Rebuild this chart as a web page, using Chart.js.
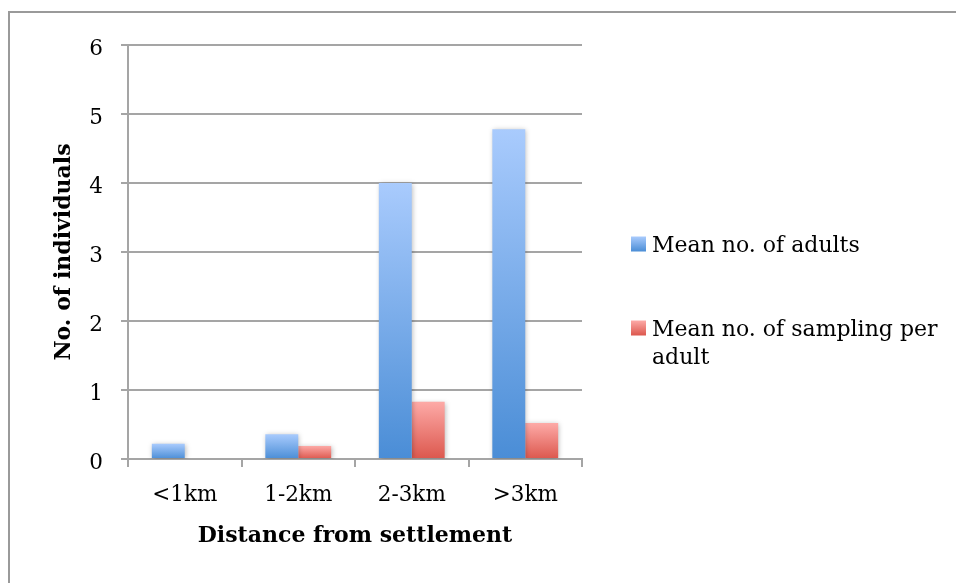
<!DOCTYPE html>
<html>
<head>
<meta charset="utf-8">
<script src="https://cdn.jsdelivr.net/npm/chart.js@4.4.1/dist/chart.umd.min.js"></script>
<style>
  html, body { margin: 0; padding: 0; background: #fff; }
  #wrap { width: 956px; height: 583px; position: relative; }
</style>
</head>
<body>
<div id="wrap"><canvas id="c" width="956" height="583"></canvas></div>
<script>
const categories = ['<1km', '1-2km', '2-3km', '>3km'];
const adults = [0.22, 0.36, 4.0, 4.78];
const samplingPerAdult = [0, 0.19, 0.83, 0.52];
const seriesLabels = ['Mean no. of adults', 'Mean no. of sampling per adult'];
const yTicks = [0, 1, 2, 3, 4, 5, 6];

const FONT = '"DejaVu Serif", serif';
const BLUE = ['#a9cbfd', '#4a8dd6'];
const RED = ['#fdaaa7', '#dc574d'];

function grad(colors) {
  return (ctx) => {
    const chart = ctx.chart;
    if (!chart.chartArea || ctx.type !== 'data') return colors[1];
    const ys = chart.scales.y;
    const yTop = ys.getPixelForValue(ctx.raw);
    const yBot = ys.getPixelForValue(0);
    if (!isFinite(yTop) || !isFinite(yBot) || Math.abs(yBot - yTop) < 0.5) return colors[1];
    const g = chart.ctx.createLinearGradient(0, yTop, 0, yBot);
    g.addColorStop(0, colors[0]);
    g.addColorStop(1, colors[1]);
    return g;
  };
}

const framePlugin = {
  id: 'frame',
  beforeDraw(chart) {
    const c = chart.ctx;
    c.save();
    c.fillStyle = '#fff';
    c.fillRect(0, 0, chart.width, chart.height);
    c.strokeStyle = '#9a9a9a';
    c.lineWidth = 2;
    c.strokeRect(9, 12, 3000, 3000);
    c.restore();
  }
};

const shadowPlugin = {
  id: 'barShadow',
  beforeDatasetsDraw(chart) {
    const c = chart.ctx;
    c.save();
    c.shadowColor = 'rgba(0,0,0,0.28)';
    c.shadowBlur = 5;
    c.shadowOffsetX = 1;
    c.shadowOffsetY = 1;
  },
  afterDatasetsDraw(chart) {
    chart.ctx.restore();
  }
};

const legendPlugin = {
  id: 'customLegend',
  afterDraw(chart) {
    const c = chart.ctx;
    const boxX = 631, boxSize = 15, textX = 652, lineH = 28;
    const starts = [244, 328];
    c.save();
    c.font = '22px ' + FONT;
    c.textBaseline = 'middle';
    c.textAlign = 'left';
    const maxW = chart.width - textX - 6;
    chart.data.datasets.forEach((ds, i) => {
      const cy = starts[i];
      const colors = ds._colors;
      const g = c.createLinearGradient(0, cy - boxSize / 2, 0, cy + boxSize / 2);
      g.addColorStop(0, colors[0]);
      g.addColorStop(1, colors[1]);
      c.fillStyle = g;
      c.fillRect(boxX, cy - boxSize / 2, boxSize, boxSize);
      const words = ds.label.split(' ');
      const lines = [];
      let cur = '';
      words.forEach(w => {
        const t = cur ? cur + ' ' + w : w;
        if (c.measureText(t).width > maxW && cur) { lines.push(cur); cur = w; }
        else cur = t;
      });
      if (cur) lines.push(cur);
      c.fillStyle = '#000';
      lines.forEach((ln, k) => c.fillText(ln, textX, cy + 2 + k * lineH));
    });
    c.restore();
  }
};

new Chart(document.getElementById('c'), {
  type: 'bar',
  data: {
    labels: categories,
    datasets: [
      { label: seriesLabels[0], data: adults, backgroundColor: grad(BLUE), _colors: BLUE },
      { label: seriesLabels[1], data: samplingPerAdult, backgroundColor: grad(RED), _colors: RED }
    ]
  },
  plugins: [framePlugin, shadowPlugin, legendPlugin],
  options: {
    responsive: false,
    animation: false,
    devicePixelRatio: 1,
    layout: { padding: { left: 40, top: 45, right: 374, bottom: 0 } },
    datasets: { bar: { categoryPercentage: 0.58, barPercentage: 1.0 } },
    plugins: { legend: { display: false }, tooltip: { enabled: false } },
    scales: {
      x: {
        afterFit(s) { s.height = 124; },
        grid: { display: true, drawOnChartArea: false, drawTicks: true, tickLength: 8, color: '#a5a5a5', lineWidth: 2, offset: true },
        border: { display: true, color: '#a5a5a5', width: 2 },
        ticks: { color: '#000', font: { family: FONT, size: 21.5 }, padding: 16, maxRotation: 0 },
        title: { display: true, text: 'Distance from settlement', color: '#000', font: { family: FONT, size: 22, weight: 'bold' }, padding: { top: 0, bottom: 34 } }
      },
      y: {
        min: 0, max: 6,
        afterFit(s) { s.width = 88; },
        afterBuildTicks(s) { s.ticks = yTicks.map(v => ({ value: v })); },
        grid: { color: '#a5a5a5', lineWidth: 2, tickLength: 7, drawTicks: true },
        border: { display: true, color: '#a5a5a5', width: 2 },
        ticks: { color: '#000', font: { family: FONT, size: 21.5 }, padding: 18, labelOffset: 4 },
        title: { display: true, text: 'No. of individuals', color: '#000', font: { family: FONT, size: 22, weight: 'bold' }, padding: { top: 11, bottom: 0 } }
      }
    }
  }
});
</script>
</body>
</html>
